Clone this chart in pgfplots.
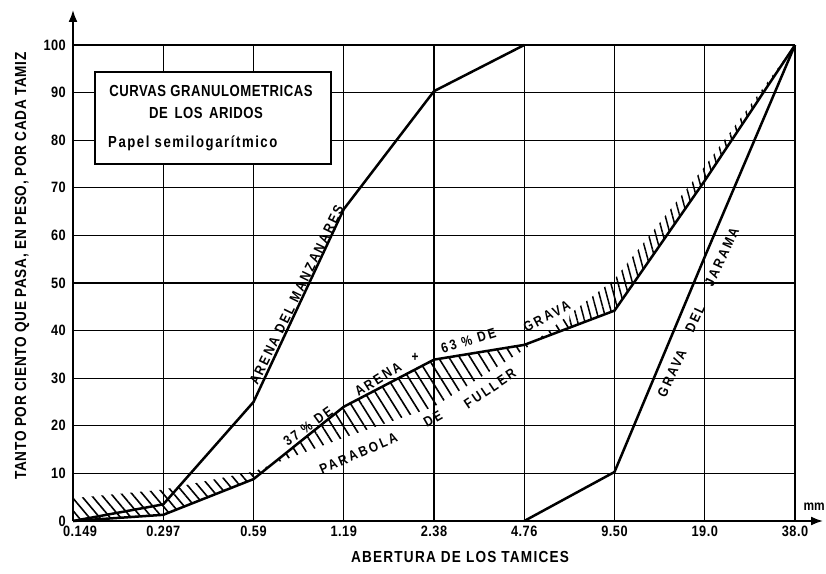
\documentclass[border=0pt]{standalone}
\usepackage{graphicx}
\usepackage{pgfplots}
\pgfplotsset{compat=1.18}
\usepgfplotslibrary{fillbetween}
\usetikzlibrary{patterns.meta,arrows.meta}
\usepackage{fontspec}
\setmainfont{Liberation Sans}
\newcommand{\cs}[2][0.85]{\scalebox{#1}[1]{#2}}
\tikzset{
  lab/.style={font=\bfseries\fontsize{14}{14}\selectfont\addfontfeatures{LetterSpace=20}, inner sep=0pt},
}

\begin{document}
\begin{tikzpicture}
\begin{axis}[
  at={(73pt,52pt)}, anchor=south west,
  scale only axis, width=722pt, height=476pt,
  xmin=0, xmax=8, ymin=0, ymax=100,
  xtick={0,...,8},
  xticklabels={\hspace*{14pt}\cs{0.149},\cs{0.297},\cs{0.59},\cs{1.19},\cs{2.38},\cs{4.76},\cs{9.50},\cs{19.0},\cs{38.0}},
  ytick={0,10,...,100},
  yticklabel={\cs{\pgfmathprintnumber{\tick}}},
  grid=major, grid style={black, line width=1.1pt},
  major tick length=0pt,
  axis lines=left,
  axis line style={line width=1.8pt, -{Latex[length=12pt,width=9pt]}},
  x axis line style={shorten >=-28pt},
  y axis line style={shorten >=-35pt},
  ticklabel style={font=\bfseries\fontsize{15}{15}\selectfont\addfontfeatures{LetterSpace=4}, inner sep=0pt},
  xticklabel style={yshift=-5pt},
  yticklabel style={xshift=-7pt},
  /pgf/number format/assume math mode=true,
  clip=false,
]
% Arena del Manzanares
\addplot[line width=2.5pt] coordinates {(0,0) (1,3.5) (2,25) (3,65.5) (4,90.3) (5,100)};
% Grava del Jarama
\addplot[line width=2.5pt] coordinates {(5,0) (6,10.3) (7,55.5) (8,100)};
% Mezcla 37% arena + 63% grava
\addplot[name path=mix, line width=2.5pt] coordinates {(0,0) (1,1.3) (2,8.8) (3,24) (4,33.9) (5,37) (6,44.2) (7,71.5) (8,100)};
% Parabola de Fuller
\addplot[name path=ful, draw=none] coordinates {(0,4.8) (1,6.6) (2,10.4) (3,17.5) (4,24) (5,36) (6,50.8) (7,74.5) (8,100)};
\addplot[pattern={Lines[angle=-50,distance=8pt,line width=1.6pt]}, draw=none]
  fill between[of=mix and ful, soft clip={domain=0:2.2}];
\addplot[pattern={Lines[angle=-58,distance=9pt,line width=1.6pt]}, draw=none]
  fill between[of=mix and ful, soft clip={domain=2.2:5.5}];
\addplot[pattern={Lines[angle=-75,distance=7pt,line width=1.5pt]}, draw=none]
  fill between[of=mix and ful, soft clip={domain=5.5:8}];

\node[lab, rotate=64] at (axis cs:2.477,47.5) {\cs{ARENA DEL MANZANARES}};
\node[lab, rotate=36] at (axis cs:2.604,19.9) {\cs{37 \% DE}};
\node[lab, rotate=32] at (axis cs:3.380,29.8) {\cs{ARENA}};
\node[lab] at (axis cs:3.79,34.4) {\cs{+}};
\node[lab, rotate=17] at (axis cs:4.382,37.9) {\cs{63 \% DE}};
\node[lab, rotate=28] at (axis cs:5.25,43.0) {\cs{GRAVA}};
\node[lab, rotate=23] at (axis cs:3.163,14.2) {\cs{PARABOLA}};
\node[lab, rotate=30] at (axis cs:3.989,21.5) {\cs{DE}};
\node[lab, rotate=34] at (axis cs:4.62,27.8) {\cs{FULLER}};
\node[lab, rotate=65] at (axis cs:6.637,31.0) {\cs{GRAVA}};
\node[lab, rotate=65] at (axis cs:6.892,42.5) {\cs{DEL}};
\node[lab, rotate=65] at (axis cs:7.19,55.4) {\cs{JARAMA}};
\end{axis}

% title box
\draw[line width=1.3pt, fill=white] (95pt,409pt) rectangle (331pt,501pt);
\node[font=\bfseries\fontsize{16}{16}\selectfont\addfontfeatures{LetterSpace=4}, inner sep=0pt] at (211pt,482pt) {\cs[0.82]{CURVAS GRANULOMETRICAS}};
\node[font=\bfseries\fontsize{16}{16}\selectfont\addfontfeatures{LetterSpace=4}, inner sep=0pt] at (206pt,460.5pt) {\cs[0.82]{DE\hspace{8pt}LOS\hspace{8pt}ARIDOS}};
\node[font=\bfseries\fontsize{16}{16}\selectfont\addfontfeatures{LetterSpace=12}, inner sep=0pt, anchor=west] at (108pt,429.5pt) {\cs[0.82]{Papel semilogarítmico}};

% axis labels
\node[font=\bfseries\fontsize{16}{16}\selectfont\addfontfeatures{LetterSpace=5}, inner sep=0pt, rotate=90] at (22pt,307pt) {\cs{TANTO POR CIENTO QUE PASA, EN PESO, POR CADA TAMIZ}};
\node[font=\bfseries\fontsize{16}{16}\selectfont\addfontfeatures{LetterSpace=9}, inner sep=0pt] at (460pt,16.5pt) {\cs{ABERTURA DE LOS TAMICES}};
\node[font=\bfseries\fontsize{14}{14}\selectfont, inner sep=0pt, anchor=east] at (825pt,66pt) {\cs{mm}};

\pgfresetboundingbox
\path[use as bounding box] (0pt,0pt) rectangle (826pt,573pt);
\end{tikzpicture}
\end{document}
